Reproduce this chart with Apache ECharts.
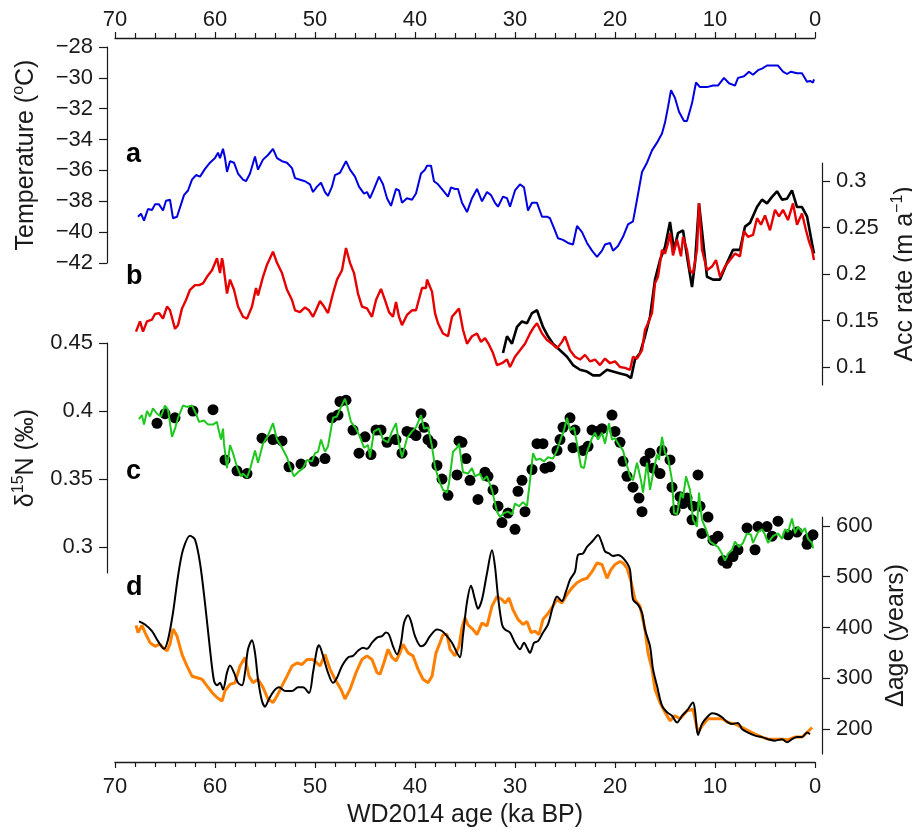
<!DOCTYPE html>
<html>
<head>
<meta charset="utf-8">
<script src="https://cdn.jsdelivr.net/npm/echarts@6/dist/echarts.min.js"></script>
<style>
  html, body { margin: 0; padding: 0; background: #fff; }
  #chart { width: 912px; height: 830px; }
</style>
</head>
<body>
<div id="chart"></div>
<script>
// a: temperature [age ka, degC]
const temperature = [[67.7,-39.0],[67.4,-38.8],[67.1,-39.25],[66.7,-38.5],[66.3,-38.56],[66.0,-38.2],[65.6,-38.2],[65.2,-38.6],[64.9,-37.96],[64.5,-37.9],[64.2,-39.1],[63.8,-39.0],[63.4,-38.2],[63.1,-37.6],[62.7,-37.3],[62.3,-36.6],[61.9,-36.3],[61.5,-36.4],[61.0,-35.9],[60.5,-35.5],[60.0,-35.2],[59.7,-34.85],[59.5,-35.2],[59.2,-34.6],[59.0,-35.2],[58.8,-36.1],[58.5,-35.4],[58.1,-35.5],[57.7,-36.2],[57.2,-36.6],[56.9,-36.7],[56.5,-36.2],[56.0,-35.1],[55.7,-35.95],[55.2,-35.3],[54.7,-35.0],[54.2,-34.6],[53.8,-35.2],[53.3,-35.4],[52.8,-35.5],[52.3,-35.85],[52.0,-36.5],[51.5,-36.6],[51.0,-36.7],[50.5,-36.9],[50.2,-37.4],[49.8,-37.05],[49.4,-36.8],[49.0,-37.4],[48.7,-37.65],[48.3,-37.05],[48.0,-36.3],[47.5,-36.15],[46.9,-35.4],[46.5,-35.95],[46.0,-36.4],[45.6,-37.05],[45.1,-37.5],[44.8,-37.4],[44.5,-37.8],[44.1,-37.2],[43.6,-36.4],[43.2,-36.9],[42.8,-37.8],[42.4,-38.3],[41.9,-37.2],[41.6,-37.3],[41.3,-38.1],[40.8,-37.8],[40.3,-37.9],[39.9,-37.5],[39.4,-36.2],[39.0,-35.95],[38.8,-35.7],[38.4,-35.7],[38.1,-36.7],[37.7,-36.9],[37.2,-37.3],[36.7,-37.7],[36.4,-37.1],[36.0,-37.2],[35.7,-37.2],[35.3,-38.1],[34.8,-38.7],[34.3,-37.8],[33.8,-37.2],[33.3,-38.0],[32.8,-37.4],[32.4,-37.6],[32.0,-38.1],[31.7,-38.35],[31.2,-37.7],[30.8,-37.8],[30.5,-38.35],[30.0,-37.3],[29.5,-36.9],[29.1,-37.1],[28.7,-38.6],[28.3,-38.1],[27.8,-38.1],[27.3,-39.0],[26.8,-39.0],[26.5,-39.1],[26.0,-39.9],[25.7,-40.4],[25.2,-40.5],[24.7,-40.7],[24.2,-40.8],[23.8,-39.6],[23.3,-40.0],[22.8,-40.7],[22.3,-41.2],[21.8,-41.6],[21.3,-41.2],[21.0,-40.8],[20.5,-40.7],[20.2,-41.2],[19.7,-40.9],[19.2,-40.3],[18.7,-39.5],[18.2,-39.3],[17.8,-37.9],[17.3,-36.1],[16.8,-35.5],[16.3,-34.7],[15.8,-34.2],[15.3,-33.6],[15.0,-32.9],[14.7,-31.9],[14.4,-30.8],[14.0,-31.3],[13.6,-32.2],[13.1,-32.8],[12.8,-32.8],[12.3,-31.65],[11.9,-30.3],[11.5,-30.6],[10.8,-30.6],[10.2,-30.5],[9.7,-30.5],[9.1,-30.0],[8.6,-30.35],[8.0,-30.5],[7.7,-30.0],[7.1,-29.9],[6.6,-29.6],[6.2,-29.8],[5.7,-29.5],[5.3,-29.4],[4.8,-29.2],[4.2,-29.2],[3.7,-29.2],[3.2,-29.6],[2.8,-29.75],[2.4,-29.6],[1.8,-29.7],[1.3,-29.7],[0.8,-30.25],[0.5,-30.2],[0.2,-30.3],[0.1,-30.1]];

// b: accumulation rate [age ka, m/a]
const accRed = [[67.9,.138],[67.5,.149],[67.2,.138],[66.8,.149],[66.3,.151],[66.0,.157],[65.6,.158],[65.2,.152],[64.8,.165],[64.5,.161],[64.0,.141],[63.7,.145],[63.3,.163],[62.9,.172],[62.5,.183],[62.0,.188],[61.6,.188],[61.2,.190],[60.8,.197],[60.3,.204],[59.8,.217],[59.5,.201],[59.3,.217],[59.2,.212],[58.8,.179],[58.5,.194],[58.1,.183],[57.7,.165],[57.2,.154],[56.8,.152],[56.3,.165],[55.9,.185],[55.7,.177],[55.2,.197],[54.8,.210],[54.2,.224],[53.8,.212],[53.3,.201],[52.8,.183],[52.3,.172],[52.0,.161],[51.5,.159],[51.0,.164],[50.6,.161],[50.2,.154],[49.9,.161],[49.5,.171],[49.1,.165],[48.7,.158],[48.2,.179],[47.8,.194],[47.3,.204],[46.9,.228],[46.5,.212],[46.1,.201],[45.7,.179],[45.3,.165],[44.8,.163],[44.3,.154],[43.9,.172],[43.4,.184],[43.0,.172],[42.6,.159],[42.2,.154],[41.9,.170],[41.6,.154],[41.3,.145],[40.8,.156],[40.3,.161],[39.9,.161],[39.3,.185],[38.9,.185],[38.8,.194],[38.3,.181],[38.0,.158],[37.7,.147],[37.2,.136],[36.7,.133],[36.3,.154],[35.9,.159],[35.6,.163],[35.2,.140],[34.8,.125],[34.3,.133],[33.8,.136],[33.4,.127],[33.0,.131],[32.6,.124],[32.2,.115],[31.8,.102],[31.3,.104],[30.8,.108],[30.5,.100],[30.0,.111],[29.5,.118],[29.0,.125],[28.5,.136],[28.1,.143],[27.8,.147],[27.3,.136],[26.8,.129],[26.3,.125],[25.8,.120],[25.3,.127],[25.0,.133],[24.5,.118],[24.0,.111],[23.5,.108],[23.0,.113],[22.5,.106],[22.0,.108],[21.5,.102],[21.0,.109],[20.5,.104],[20.0,.106],[19.5,.100],[19.0,.099],[18.5,.097],[18.2,.111],[17.8,.109],[17.3,.118],[17.0,.140],[16.7,.147],[16.3,.158],[16.0,.190],[15.7,.197],[15.3,.226],[15.0,.222],[14.7,.233],[14.5,.244],[14.2,.220],[13.8,.237],[13.4,.219],[13.2,.240],[12.8,.226],[12.5,.204],[12.2,.201],[11.8,.226],[11.6,.276],[11.3,.226],[10.8,.204],[10.3,.208],[9.9,.215],[9.5,.197],[9.0,.208],[8.5,.215],[8.0,.222],[7.5,.219],[7.1,.246],[6.7,.240],[6.2,.242],[5.8,.260],[5.4,.253],[5.0,.263],[4.5,.247],[4.0,.269],[3.6,.262],[3.2,.269],[2.7,.258],[2.2,.276],[1.8,.253],[1.3,.265],[0.9,.247],[0.6,.235],[0.3,.226],[0.1,.215]];
const accBlack = [[31.2,.115],[30.8,.133],[30.3,.125],[29.8,.143],[29.3,.149],[28.8,.147],[28.3,.158],[27.8,.161],[27.2,.143],[26.7,.133],[26.2,.125],[25.5,.118],[24.8,.111],[24.2,.102],[23.5,.097],[22.8,.095],[22.2,.091],[21.5,.091],[20.8,.097],[20.2,.095],[19.5,.093],[18.8,.091],[18.4,.088],[18.0,.108],[17.5,.115],[17.0,.133],[16.5,.154],[16.0,.194],[15.5,.215],[15.0,.229],[14.5,.256],[14.1,.226],[13.7,.244],[13.2,.247],[12.8,.219],[12.3,.186],[12.0,.212],[11.6,.276],[10.8,.197],[10.2,.194],[9.5,.194],[8.8,.212],[8.2,.226],[7.5,.226],[7.0,.251],[6.5,.255],[5.8,.272],[5.3,.280],[4.8,.276],[4.3,.283],[3.8,.289],[3.3,.280],[2.8,.281],[2.3,.290],[1.8,.272],[1.3,.272],[0.8,.262],[0.3,.233],[0.1,.222]];

// c: d15N [age ka, permil]
const d15nModel = [[67.6,.394],[67.3,.397],[67.1,.390],[66.8,.400],[66.5,.396],[66.2,.402],[65.8,.398],[65.4,.396],[65.0,.404],[64.7,.401],[64.3,.381],[64.0,.387],[63.7,.395],[63.2,.404],[62.8,.403],[62.3,.404],[61.9,.398],[61.6,.392],[61.1,.393],[60.7,.390],[60.2,.390],[59.8,.392],[59.7,.388],[59.4,.379],[59.2,.387],[59.1,.376],[58.8,.358],[58.5,.375],[58.2,.369],[57.8,.359],[57.4,.352],[57.2,.354],[56.8,.351],[56.5,.357],[56.0,.371],[55.7,.362],[55.2,.376],[54.7,.382],[54.2,.391],[53.8,.379],[53.3,.373],[52.8,.366],[52.5,.359],[52.1,.352],[51.7,.355],[51.2,.358],[50.8,.364],[50.3,.363],[50.0,.369],[49.7,.370],[49.4,.379],[49.0,.370],[48.7,.374],[48.2,.395],[47.8,.396],[47.4,.403],[47.0,.409],[46.8,.404],[46.4,.392],[45.9,.387],[45.5,.381],[45.1,.373],[44.7,.375],[44.5,.366],[44.1,.385],[43.6,.387],[43.2,.379],[42.7,.377],[42.3,.385],[41.9,.391],[41.6,.376],[41.3,.366],[40.8,.380],[40.3,.385],[39.9,.388],[39.4,.397],[39.1,.387],[38.7,.388],[38.3,.374],[38.0,.359],[37.6,.349],[37.2,.342],[36.8,.340],[36.6,.347],[36.2,.370],[35.8,.373],[35.6,.376],[35.2,.355],[34.7,.354],[34.3,.358],[34.0,.352],[33.5,.354],[33.2,.349],[32.8,.352],[32.3,.342],[31.8,.326],[31.5,.322],[31.1,.325],[30.7,.326],[30.3,.324],[30.0,.332],[29.6,.330],[29.2,.333],[28.8,.330],[28.5,.349],[28.2,.369],[27.9,.364],[27.5,.365],[27.1,.363],[26.7,.366],[26.2,.365],[25.8,.371],[25.4,.380],[25.1,.386],[24.8,.395],[24.5,.386],[24.1,.388],[23.8,.376],[23.4,.359],[23.1,.358],[22.8,.370],[22.3,.380],[22.0,.384],[21.7,.379],[21.3,.384],[21.0,.376],[20.6,.391],[20.3,.379],[20.0,.380],[19.6,.375],[19.2,.371],[18.8,.360],[18.5,.352],[18.2,.349],[17.8,.362],[17.4,.349],[17.2,.340],[16.8,.362],[16.5,.342],[16.2,.354],[15.8,.368],[15.6,.364],[15.3,.381],[15.0,.369],[14.7,.366],[14.3,.349],[14.1,.325],[13.8,.324],[13.4,.340],[13.2,.336],[12.9,.352],[12.5,.342],[12.2,.320],[11.8,.315],[11.6,.340],[11.3,.320],[10.9,.313],[10.5,.304],[10.1,.302],[9.7,.300],[9.3,.295],[9.0,.290],[8.7,.295],[8.3,.298],[8.0,.304],[7.6,.300],[7.2,.303],[6.8,.310],[6.4,.309],[6.2,.303],[5.7,.311],[5.3,.313],[5.0,.309],[4.7,.303],[4.2,.308],[3.7,.310],[3.3,.306],[3.0,.313],[2.7,.311],[2.3,.321],[2.0,.310],[1.7,.315],[1.3,.311],[1.0,.314],[0.7,.306],[0.3,.303],[0.2,.299]];
const d15nMeasured = [[65.8,.391],[65.0,.398],[64.0,.395],[62.2,.400],[60.2,.401],[59.0,.364],[57.8,.356],[56.8,.354],[55.3,.380],[54.2,.379],[53.3,.378],[52.6,.359],[51.4,.361],[50.1,.363],[49.0,.365],[48.3,.395],[47.7,.397],[47.5,.407],[46.9,.408],[46.2,.386],[45.6,.369],[45.0,.381],[44.4,.368],[43.9,.386],[43.4,.386],[42.8,.377],[41.9,.379],[41.3,.369],[40.8,.385],[40.3,.384],[39.9,.382],[39.4,.398],[39.1,.388],[38.7,.379],[38.3,.376],[37.8,.360],[37.3,.350],[36.7,.338],[35.8,.353],[35.6,.378],[35.3,.377],[34.9,.365],[34.5,.349],[33.7,.335],[33.0,.355],[32.7,.352],[32.2,.342],[31.7,.330],[31.3,.318],[30.7,.325],[30.0,.313],[29.7,.341],[29.3,.349],[29.0,.326],[28.3,.357],[27.8,.376],[27.2,.376],[27.0,.358],[26.5,.359],[25.8,.371],[25.5,.379],[25.2,.388],[24.5,.395],[24.2,.373],[24.0,.386],[23.2,.371],[22.7,.374],[22.3,.386],[21.8,.385],[21.3,.387],[20.3,.397],[20.0,.385],[19.5,.377],[19.2,.363],[18.8,.352],[18.2,.344],[17.6,.336],[17.3,.326],[17.0,.363],[16.5,.369],[16.2,.358],[15.5,.354],[15.3,.371],[14.5,.364],[14.3,.344],[14.0,.327],[13.5,.337],[13.2,.332],[12.8,.336],[12.3,.320],[12.2,.330],[11.7,.353],[11.5,.330],[11.3,.310],[10.7,.322],[10.2,.305],[9.7,.308],[9.2,.290],[8.8,.288],[8.2,.293],[7.7,.298],[6.8,.314],[6.0,.298],[5.7,.315],[4.8,.315],[4.3,.308],[3.7,.319],[2.7,.309],[1.8,.311],[0.8,.302],[0.7,.306],[0.2,.309]];

// d: delta age [age ka, years]
const dAgeBlack = [[67.6,412],[67.0,406],[66.3,393],[65.7,373],[65.1,358],[64.7,376],[64.2,429],[63.7,501],[63.2,553],[62.5,581],[62.0,573],[61.5,527],[61.0,448],[60.5,357],[60.1,295],[59.8,286],[59.5,291],[59.2,278],[58.8,311],[58.5,325],[58.1,311],[57.7,291],[57.3,286],[57.0,311],[56.7,357],[56.3,375],[56.0,350],[55.7,298],[55.3,255],[55.0,244],[54.6,259],[54.1,275],[53.6,282],[53.0,275],[52.3,275],[51.7,282],[51.2,282],[50.6,271],[50.2,311],[49.8,357],[49.6,365],[49.2,344],[48.7,311],[48.2,291],[47.8,301],[47.3,324],[46.7,341],[46.2,344],[45.7,354],[45.2,360],[44.8,358],[44.3,370],[43.8,380],[43.3,383],[42.9,390],[42.6,386],[42.2,363],[41.8,347],[41.4,370],[41.1,409],[40.7,424],[40.4,412],[40.0,383],[39.4,363],[39.0,367],[38.5,383],[37.8,396],[37.3,393],[36.8,383],[36.3,370],[35.8,350],[35.5,341],[35.2,385],[34.8,450],[34.4,482],[34.0,455],[33.7,437],[33.3,455],[32.8,507],[32.3,552],[32.0,520],[31.7,461],[31.3,406],[31.0,396],[30.5,390],[30.0,370],[29.5,357],[29.1,370],[28.8,360],[28.5,350],[28.1,370],[27.7,373],[27.2,390],[26.7,406],[26.2,442],[25.8,461],[25.3,452],[24.9,471],[24.5,494],[24.0,510],[23.7,543],[23.2,546],[22.8,559],[22.3,569],[22.0,576],[21.7,582],[21.3,566],[21.0,550],[20.6,546],[20.2,541],[19.7,543],[19.3,539],[18.8,527],[18.5,514],[18.2,455],[17.7,445],[17.3,429],[17.0,396],[16.5,363],[16.2,318],[15.8,285],[15.3,246],[14.8,233],[14.3,226],[13.8,213],[13.3,226],[12.8,236],[12.2,252],[12.0,236],[11.7,188],[11.3,210],[10.8,223],[10.3,231],[9.8,229],[9.3,223],[8.8,214],[8.3,210],[7.7,212],[7.3,200],[6.7,193],[6.0,187],[5.3,184],[4.7,180],[4.0,177],[3.3,180],[2.8,174],[2.3,180],[1.8,184],[1.3,184],[0.8,193],[0.5,190]];
const dAgeOrange = [[67.9,404],[67.7,390],[67.3,404],[67.0,390],[66.5,370],[66.0,363],[65.5,367],[65.2,360],[64.8,354],[64.5,367],[64.2,397],[63.8,383],[63.3,347],[62.8,324],[62.3,304],[61.8,301],[61.3,298],[60.8,285],[60.3,272],[59.8,262],[59.3,255],[59.0,275],[58.5,288],[58.0,291],[57.5,324],[57.0,341],[56.6,304],[56.2,291],[55.7,298],[55.2,282],[54.7,259],[54.2,252],[53.8,265],[53.3,285],[52.8,304],[52.3,324],[51.8,330],[51.3,327],[50.8,337],[50.3,337],[50.0,334],[49.5,324],[49.0,347],[48.5,318],[48.0,298],[47.4,278],[47.0,259],[46.5,278],[45.9,311],[45.3,337],[44.8,344],[44.3,337],[43.8,311],[43.5,308],[43.1,331],[42.7,357],[42.3,341],[41.9,334],[41.5,350],[41.2,367],[40.7,350],[40.2,344],[39.7,318],[39.2,298],[38.7,291],[38.3,304],[37.9,350],[37.5,370],[37.2,386],[36.8,386],[36.5,357],[36.0,344],[35.6,363],[35.3,400],[35.0,419],[34.7,405],[34.2,396],[33.8,386],[33.3,409],[32.8,403],[32.3,442],[31.8,461],[31.3,455],[31.0,448],[30.6,458],[30.2,435],[29.7,416],[29.2,406],[28.8,412],[28.4,390],[28.0,393],[27.6,386],[27.2,416],[26.8,425],[26.3,439],[25.8,455],[25.3,448],[24.8,465],[24.3,478],[23.8,488],[23.3,494],[22.8,497],[22.3,510],[21.8,527],[21.3,524],[20.8,497],[20.4,514],[20.0,524],[19.5,530],[19.2,527],[18.8,517],[18.4,491],[18.0,455],[17.5,442],[17.0,396],[16.7,350],[16.3,318],[16.0,278],[15.5,252],[15.0,233],[14.5,216],[14.0,226],[13.5,220],[12.8,236],[12.2,239],[11.7,193],[11.3,206],[10.7,220],[10.0,220],[9.3,220],[8.7,213],[8.0,210],[7.3,203],[6.7,197],[6.0,190],[5.3,184],[4.7,180],[4.0,180],[3.3,180],[2.7,179],[2.0,184],[1.3,184],[0.8,193],[0.3,203]];

// tick values
const tempTicks = [-42, -40, -38, -36, -34, -32, -30, -28];
const accTicks = [0.1, 0.15, 0.2, 0.25, 0.3];
const d15nTicks = [0.3, 0.35, 0.4, 0.45];
const dAgeTicks = [200, 300, 400, 500, 600];

const FONT = "Liberation Sans, Arial, Helvetica, sans-serif";
const INK = "#1a1a1a";
const L = 115, R = 97;

function numFmt(v) { return String(+(+v).toFixed(2)); }
function minusFmt(v) { return (v < 0 ? "\u2212" : "") + Math.abs(v); }

function hiddenX(gi) {
  return { gridIndex: gi, type: "value", min: 0, max: 70, inverse: true, show: false };
}
function ageAxis(pos, margin) {
  return {
    gridIndex: 0, type: "value", position: pos, min: 0, max: 70, interval: 10, inverse: true,
    axisLine: { show: true, onZero: false, lineStyle: { color: INK, width: 1.3 } },
    axisTick: { show: true, length: 6, lineStyle: { color: INK, width: 1.2 } },
    minorTick: { show: true, splitNumber: 5, length: 5, lineStyle: { color: INK, width: 1.2 } },
    axisLabel: { color: INK, fontSize: 22, fontFamily: FONT, margin: margin },
    splitLine: { show: false }
  };
}
function sideAxis(gi, pos, min, max, ticks, fmt, name, gap) {
  return {
    gridIndex: gi, type: "value", position: pos, offset: pos === "left" ? 8 : 7,
    min: min, max: max,
    axisLine: { show: true, onZero: false, lineStyle: { color: INK, width: 1.2 } },
    axisTick: { show: true, length: 8, customValues: ticks, lineStyle: { color: INK, width: 1.2 } },
    axisLabel: { color: INK, fontSize: 22, fontFamily: FONT, margin: 14, customValues: ticks, formatter: fmt },
    splitLine: { show: false },
    name: name, nameLocation: "middle", nameGap: gap,
    nameTextStyle: {
      color: INK, fontSize: 25, fontFamily: FONT,
      rich: {
        n: { fontSize: 25, fontFamily: FONT, color: INK },
        s: { fontSize: 16, fontFamily: FONT, color: INK, padding: [0, 0, 14, 0] }
      }
    }
  };
}
function line(xi, yi, data, color, width, extra) {
  return Object.assign({
    type: "line", xAxisIndex: xi, yAxisIndex: yi, data: data, showSymbol: false,
    lineStyle: { color: color, width: width }, itemStyle: { color: color }, silent: true
  }, extra || {});
}
function grid(top, height) {
  const g = { left: L, right: R, top: top, outerBoundsMode: "none", containLabel: false };
  if (height == null) g.bottom = 68; else g.height = height;
  return g;
}

const option = {
  animation: false,
  backgroundColor: "#fff",
  grid: [
    grid(38),
    grid(47, 216),
    grid(163, 222),
    grid(343, 230),
    grid(517, 237)
  ],
  xAxis: [
    ageAxis("top", 7),
    Object.assign(ageAxis("bottom", 14), {
      name: "WD2014 age (ka BP)", nameLocation: "middle", nameGap: 41,
      nameTextStyle: { color: INK, fontSize: 25, fontFamily: FONT }
    }),
    hiddenX(1), hiddenX(2), hiddenX(3), hiddenX(4)
  ],
  yAxis: [
    { gridIndex: 0, type: "value", min: 0, max: 1, show: false },
    sideAxis(1, "left", -42, -28, tempTicks, minusFmt, "{n|Temperature (}{s|o}{n|C)}", 66),
    sideAxis(2, "right", 0.0806, 0.3194, accTicks, numFmt, "{n|Acc rate (m a}{s|\u22121}{n|)}", 54),
    sideAxis(3, "left", 0.2809, 0.45, d15nTicks, numFmt, "{n|\u03b4}{s|15}{n|N (\u2030)}", 66),
    sideAxis(4, "right", 150.7, 617.7, dAgeTicks, numFmt, "{n|\u0394age (years)}", 62)
  ],
  graphic: [
    { type: "text", left: 126, top: 141, style: { text: "a", fontSize: 27, fontWeight: "bold", fontFamily: FONT, fill: "#000" } },
    { type: "text", left: 126, top: 263, style: { text: "b", fontSize: 27, fontWeight: "bold", fontFamily: FONT, fill: "#000" } },
    { type: "text", left: 126, top: 458, style: { text: "c", fontSize: 27, fontWeight: "bold", fontFamily: FONT, fill: "#000" } },
    { type: "text", left: 126, top: 574, style: { text: "d", fontSize: 27, fontWeight: "bold", fontFamily: FONT, fill: "#000" } }
  ],
  series: [
    line(2, 1, temperature, "#0000e0", 2),
    line(3, 2, accBlack, "#000000", 2.6, { z: 2 }),
    line(3, 2, accRed, "#e60000", 2.4, { z: 3 }),
    {
      type: "scatter", xAxisIndex: 4, yAxisIndex: 3, data: d15nMeasured,
      symbol: "circle", symbolSize: 11, itemStyle: { color: "#000", opacity: 1 }, z: 2, silent: true
    },
    line(4, 3, d15nModel, "#1ec81e", 2, { z: 3 }),
    line(5, 4, dAgeOrange, "#ff8000", 3, { z: 2 }),
    line(5, 4, dAgeBlack, "#000000", 2, { z: 3, smooth: 0.3 })
  ]
};

const chart = echarts.init(document.getElementById("chart"), null, { renderer: "canvas" });
chart.setOption(option);
</script>
</body>
</html>
